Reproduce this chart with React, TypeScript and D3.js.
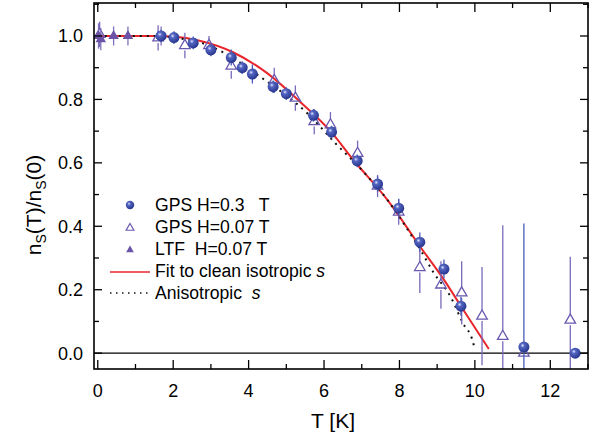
import React from 'react'
import * as d3 from 'd3'

// GPS, H = 0.3 T (filled spheres)
const gpsHighT = [1.68, 2.02, 2.53, 3.0, 3.54, 3.83, 4.1, 4.65, 5.0, 5.72, 6.2, 6.88, 7.42, 7.98, 8.54, 9.18, 9.63, 11.3, 12.66]
const gpsHighV = [1.0, 0.995, 0.978, 0.956, 0.932, 0.9, 0.88, 0.84, 0.818, 0.75, 0.697, 0.606, 0.533, 0.457, 0.35, 0.265, 0.148, 0.019, 0.0]
const gpsHighErr = [0.02, 0.02, 0.02, 0.02, 0.025, 0.02, 0.03, 0.02, 0.02, 0.02, 0.02, 0.02, 0.025, 0.03, 0.03, 0.03, 0.03, 0.39, 0.01]

// GPS, H = 0.07 T (open triangles)
const gpsLowT = [0.05, 1.6, 2.31, 2.95, 3.54, 4.68, 5.24, 5.74, 6.17, 6.89, 7.42, 7.98, 8.54, 9.1, 9.65, 10.19, 10.74, 11.3, 12.53]
const gpsLowV = [1.005, 0.994, 0.97, 0.97, 0.905, 0.86, 0.804, 0.73, 0.72, 0.63, 0.527, 0.445, 0.27, 0.215, 0.19, 0.117, 0.053, 0.0, 0.104]
const gpsLowErr = [0.04, 0.04, 0.04, 0.03, 0.04, 0.04, 0.04, 0.04, 0.04, 0.04, 0.035, 0.04, 0.08, 0.075, 0.1, 0.155, 0.35, 0.01, 0.2]

// LTF, H = 0.07 T (filled triangles)
const ltfT = [0.02, 0.08, 0.42, 0.8, 1.68]
const ltfV = [1.0, 0.99, 1.0, 1.0, 1.0]
const ltfErr = [0.04, 0.035, 0.03, 0.03, 0.03]

// fit to clean isotropic s
const fitT = [0, 1.5, 2.0, 2.7, 3.6, 4.5, 5.37, 6.17, 6.78, 7.68, 8.56, 9.2, 9.7, 10.37]
const fitV = [1.0, 1.0, 0.998, 0.985, 0.948, 0.882, 0.792, 0.7, 0.609, 0.483, 0.334, 0.228, 0.135, 0.013]

// anisotropic s
const anisoT = [0, 1.5, 2.0, 2.9, 3.3, 4.3, 5.55, 6.3, 7.05, 7.7, 8.16, 8.56, 8.9, 9.36, 9.68, 9.95, 10.0]
const anisoV = [1.0, 1.0, 0.995, 0.972, 0.95, 0.872, 0.757, 0.662, 0.571, 0.48, 0.4, 0.325, 0.255, 0.177, 0.095, 0.035, 0.01]

const xTicks = [0, 2, 4, 6, 8, 10, 12]
const yTicks = [0.0, 0.2, 0.4, 0.6, 0.8, 1.0]

const W = 599
const H = 440
const left = 94, right = 588, top = 3, bottom = 369

const font = 'Liberation Sans, Arial, Helvetica, sans-serif'

export default function App() {
  const x = d3.scaleLinear().domain([-0.1, 13.0]).range([left, right])
  const y = d3.scaleLinear().domain([-0.05, 1.104]).range([bottom, top])

  const line = d3.line<[number, number]>()
    .x(d => x(d[0]))
    .y(d => y(d[1]))
    .curve(d3.curveMonotoneX)

  const fitPath = line(fitT.map((t, i) => [t, fitV[i]]) as [number, number][])
  const anisoPath = line(anisoT.map((t, i) => [t, anisoV[i]]) as [number, number][])

  const tri = d3.symbol().type(d3.symbolTriangle).size(48)()
  const triSmall = d3.symbol().type(d3.symbolTriangle).size(26)()

  const minorX = d3.range(0, 13.01, 1)
  const minorY = d3.range(0, 1.101, 0.1)

  return (
    <svg width={W} height={H} style={{ position: 'absolute', left: 0, top: 0, background: '#fff' }} fontFamily={font}>
      <defs>
        <radialGradient id='ball' cx='38%' cy='35%' r='65%'>
          <stop offset='0%' stopColor='#e4e8ff' />
          <stop offset='28%' stopColor='#5466c2' />
          <stop offset='100%' stopColor='#27368f' />
        </radialGradient>
        <clipPath id='plot'>
          <rect x={left} y={top} width={right - left} height={bottom - top} />
        </clipPath>
      </defs>

      {/* zero line */}
      <line x1={left} x2={right} y1={y(0)} y2={y(0)} stroke='#000' strokeWidth={1.3} />

      <g clipPath='url(#plot)'>
        <path d={fitPath || ''} fill='none' stroke='#e8262b' strokeWidth={2} />
        <path d={anisoPath || ''} fill='none' stroke='#111' strokeWidth={2} strokeDasharray='2,5' />

        {/* open triangles: bars with gap around marker */}
        {gpsLowT.map((t, i) => {
          const cx = x(t), cy = y(gpsLowV[i])
          const e = gpsLowErr[i]
          return (
            <g key={'gl' + i}>
              {y(gpsLowV[i] + e) < cy - 6 && (
                <line x1={cx} x2={cx} y1={y(gpsLowV[i] + e)} y2={cy - 6} stroke='#7a68bb' strokeWidth={1.3} />
              )}
              {y(gpsLowV[i] - e) > cy + 5 && (
                <line x1={cx} x2={cx} y1={cy + 5} y2={y(gpsLowV[i] - e)} stroke='#7a68bb' strokeWidth={1.3} />
              )}
              <path d={tri || ''} transform={`translate(${cx},${cy})`} fill='none' stroke='#6a58b0' strokeWidth={1.3} />
            </g>
          )
        })}

        {ltfT.map((t, i) => {
          const cx = x(t), cy = y(ltfV[i])
          return (
            <g key={'lt' + i}>
              <line x1={cx} x2={cx} y1={y(ltfV[i] + ltfErr[i])} y2={y(ltfV[i] - ltfErr[i])} stroke='#8070c0' strokeWidth={1.3} />
              <path d={tri || ''} transform={`translate(${cx},${cy})`} fill='#6b54a8' />
            </g>
          )
        })}

        {gpsHighT.map((t, i) => {
          const cx = x(t), cy = y(gpsHighV[i])
          return (
            <g key={'gh' + i}>
              <line x1={cx} x2={cx} y1={y(gpsHighV[i] + gpsHighErr[i])} y2={y(gpsHighV[i] - gpsHighErr[i])} stroke='#4a5cb8' strokeWidth={1.3} />
              <circle cx={cx} cy={cy} r={5.5} fill='url(#ball)' />
            </g>
          )
        })}
      </g>

      {/* frame */}
      <rect x={left} y={top} width={right - left} height={bottom - top} fill='none' stroke='#000' strokeWidth={1.6} />

      {/* x ticks bottom and top */}
      {minorX.map(t => {
        const major = Math.round(t) % 2 === 0
        const len = major ? 9 : 5
        return (
          <g key={'xt' + t}>
            <line x1={x(t)} x2={x(t)} y1={bottom} y2={bottom - len} stroke='#000' strokeWidth={1.3} />
            <line x1={x(t)} x2={x(t)} y1={top} y2={top + len} stroke='#000' strokeWidth={1.3} />
          </g>
        )
      })}
      {minorY.map(v => {
        const major = Math.round(v * 10) % 2 === 0
        const len = major ? 8 : 5
        return (
          <g key={'yt' + v}>
            <line x1={left} x2={left + len} y1={y(v)} y2={y(v)} stroke='#000' strokeWidth={1.3} />
            <line x1={right} x2={right - len} y1={y(v)} y2={y(v)} stroke='#000' strokeWidth={1.3} />
          </g>
        )
      })}

      {xTicks.map(t => (
        <text key={'xl' + t} x={x(t)} y={397} textAnchor='middle' fontSize={18}>{t}</text>
      ))}
      {yTicks.map(v => (
        <text key={'yl' + v} x={83} y={y(v) + 6.5} textAnchor='end' fontSize={18}>{v.toFixed(1)}</text>
      ))}

      <text x={333} y={428} textAnchor='middle' fontSize={21}>T [K]</text>
      <text transform='translate(41,205) rotate(-90)' textAnchor='middle' fontSize={21}>
        n<tspan fontSize={14} dy={5}>S</tspan><tspan dy={-5}>(T)/n</tspan><tspan fontSize={14} dy={5}>S</tspan><tspan dy={-5}>(0)</tspan>
      </text>

      {/* legend */}
      <g fontSize={17.6} style={{ whiteSpace: 'pre' }}>
        <circle cx={130} cy={205} r={4.2} fill='url(#ball)' />
        <text x={155} y={211} xmlSpace='preserve'>GPS H=0.3   T</text>
        <path d={triSmall || ''} transform='translate(130,228)' fill='none' stroke='#6a58b0' strokeWidth={1.2} />
        <text x={155} y={233} xmlSpace='preserve'>GPS H=0.07 T</text>
        <path d={triSmall || ''} transform='translate(130,250)' fill='#6b54a8' />
        <text x={155} y={255} xmlSpace='preserve'>LTF  H=0.07 T</text>
        <line x1={110} x2={150} y1={272} y2={272} stroke='#e8262b' strokeWidth={1.6} />
        <text x={155} y={277}>Fit to clean isotropic <tspan fontStyle='italic'>s</tspan></text>
        <line x1={110} x2={150} y1={293} y2={293} stroke='#111' strokeWidth={1.6} strokeDasharray='1.5,4.5' />
        <text x={155} y={299} xmlSpace='preserve'>Anisotropic  <tspan fontStyle='italic'>s</tspan></text>
      </g>
    </svg>
  )
}
